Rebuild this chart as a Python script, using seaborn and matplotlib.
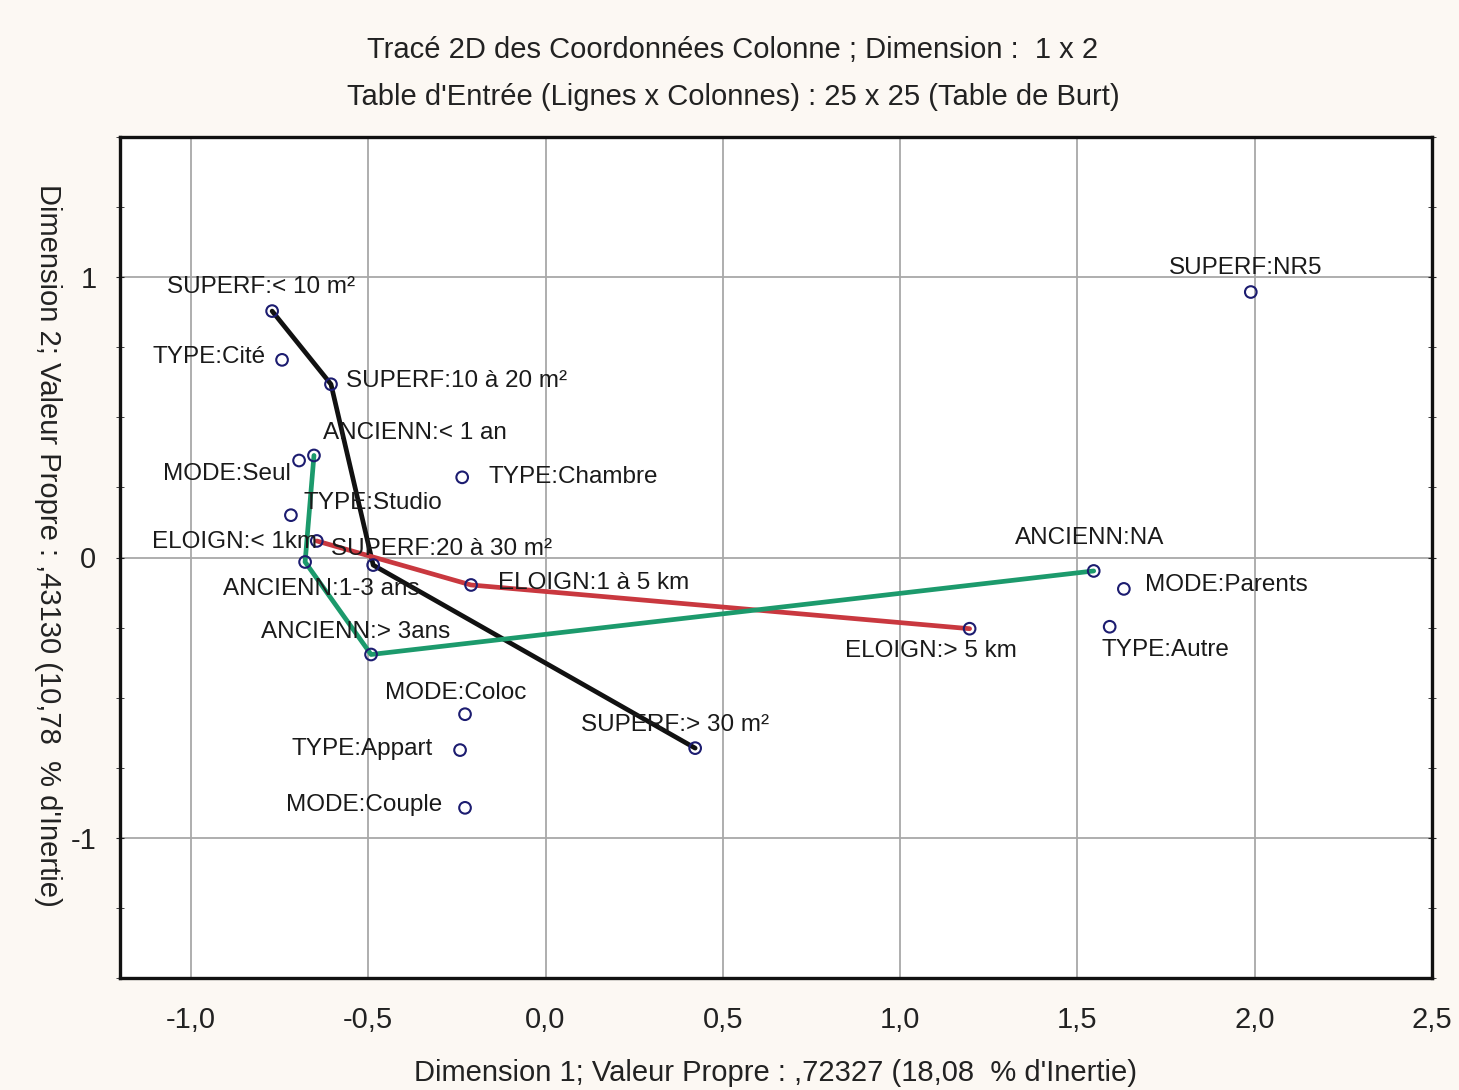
import matplotlib
matplotlib.use("Agg")
import matplotlib.pyplot as plt
from matplotlib.ticker import MultipleLocator, FixedLocator
import seaborn as sns
import pandas as pd

# ---------------- data ----------------
labels = [
    "SUPERF:< 10 m²", "TYPE:Cité", "SUPERF:10 à 20 m²", "ANCIENN:< 1 an",
    "MODE:Seul", "TYPE:Chambre", "TYPE:Studio", "ELOIGN:< 1km",
    "SUPERF:20 à 30 m²", "ANCIENN:1-3 ans", "ELOIGN:1 à 5 km", "ANCIENN:> 3ans",
    "MODE:Coloc", "TYPE:Appart", "MODE:Couple", "SUPERF:> 30 m²",
    "ELOIGN:> 5 km", "ANCIENN:NA", "MODE:Parents", "TYPE:Autre", "SUPERF:NR5",
]
dim1 = [-0.771, -0.743, -0.605, -0.653, -0.695, -0.235, -0.718, -0.645,
        -0.486, -0.678, -0.210, -0.492, -0.227, -0.241, -0.227, 0.422,
        1.196, 1.546, 1.631, 1.591, 1.989]
dim2 = [0.879, 0.705, 0.618, 0.364, 0.346, 0.286, 0.151, 0.059,
        -0.027, -0.016, -0.098, -0.346, -0.559, -0.687, -0.893, -0.680,
        -0.254, -0.048, -0.112, -0.247, 0.947]

superf_path = ["SUPERF:< 10 m²", "SUPERF:10 à 20 m²", "SUPERF:20 à 30 m²", "SUPERF:> 30 m²"]
eloign_path = ["ELOIGN:< 1km", "ELOIGN:1 à 5 km", "ELOIGN:> 5 km"]
ancienn_path = ["ANCIENN:< 1 an", "ANCIENN:1-3 ans", "ANCIENN:> 3ans", "ANCIENN:NA"]

x_ticks = [-1.0, -0.5, 0.0, 0.5, 1.0, 1.5, 2.0, 2.5]
x_tick_labels = ["-1,0", "-0,5", "0,0", "0,5", "1,0", "1,5", "2,0", "2,5"]
y_ticks = [-1, 0, 1]
y_tick_labels = ["-1", "0", "1"]

title1 = "Tracé 2D des Coordonnées Colonne ; Dimension :  1 x 2"
title2 = "Table d'Entrée (Lignes x Colonnes) : 25 x 25 (Table de Burt)"
xlabel = "Dimension 1; Valeur Propre : ,72327 (18,08  % d'Inertie)"
ylabel = "Dimension 2; Valeur Propre : ,43130 (10,78  % d'Inertie)"

# label placement (offset in pixels from the marker, horizontal alignment)
label_style = {
    "SUPERF:< 10 m²": (-11, 24, "center"),
    "TYPE:Cité": (-16, 3, "right"),
    "SUPERF:10 à 20 m²": (15, 3, "left"),
    "ANCIENN:< 1 an": (9, 22, "left"),
    "MODE:Seul": (-8, -13, "right"),
    "TYPE:Chambre": (26, 0, "left"),
    "TYPE:Studio": (13, 12, "left"),
    "ELOIGN:< 1km": (0, -1, "right"),
    "SUPERF:20 à 30 m²": (-42, 16, "left"),
    "ANCIENN:1-3 ans": (-82, -27, "left"),
    "ELOIGN:1 à 5 km": (27, 2, "left"),
    "ANCIENN:> 3ans": (-110, 22, "left"),
    "MODE:Coloc": (-80, 21, "left"),
    "TYPE:Appart": (-27, 1, "right"),
    "MODE:Couple": (-23, 3, "right"),
    "SUPERF:> 30 m²": (-114, 23, "left"),
    "ELOIGN:> 5 km": (-125, -22, "left"),
    "ANCIENN:NA": (-79, 33, "left"),
    "MODE:Parents": (21, 4, "left"),
    "TYPE:Autre": (-8, -23, "left"),
    "SUPERF:NR5": (-82, 24, "left"),
}

# ---------------- plot ----------------
sns.set_style("white")
plt.rcParams["font.family"] = ["Liberation Sans", "DejaVu Sans"]

df = pd.DataFrame({"label": labels, "x": dim1, "y": dim2})

bg = "#fcf8f3"
fig = plt.figure(figsize=(14.59, 10.90), dpi=100, facecolor=bg)
ax = fig.add_axes([120 / 1459, 1 - 978 / 1090, 1312 / 1459, 841 / 1090])
ax.set_facecolor("white")

def path_df(names):
    return df.set_index("label").loc[names].reset_index()

sns.lineplot(data=path_df(superf_path), x="x", y="y", sort=False, estimator=None,
             color="#111111", lw=3.4, ax=ax, zorder=3)
sns.lineplot(data=path_df(eloign_path), x="x", y="y", sort=False, estimator=None,
             color="#c9383f", lw=3.4, ax=ax, zorder=3)
sns.lineplot(data=path_df(ancienn_path), x="x", y="y", sort=False, estimator=None,
             color="#1c9a6c", lw=3.4, ax=ax, zorder=3)

sns.scatterplot(data=df, x="x", y="y", marker="o", s=70, facecolor="none",
                edgecolor="#1c1c70", linewidth=1.5, ax=ax, zorder=4)

for lab, xv, yv in zip(labels, dim1, dim2):
    dx, dy, ha = label_style[lab]
    ax.annotate(lab, (xv, yv), xytext=(dx, dy), textcoords="offset pixels",
                ha=ha, va="center", fontsize=17.5, color="#1a1a1a", zorder=5)

ax.set_xlim(-1.2, 2.5)
ax.set_ylim(-1.5, 1.5)
ax.xaxis.set_major_locator(FixedLocator(x_ticks))
ax.set_xticklabels(x_tick_labels)
ax.yaxis.set_major_locator(FixedLocator(y_ticks))
ax.set_yticklabels(y_tick_labels)
ax.yaxis.set_minor_locator(MultipleLocator(0.25))

ax.grid(True, which="major", color="#a8a8a8", lw=1.3)
ax.set_axisbelow(True)
for sp in ax.spines.values():
    sp.set_visible(True)
    sp.set_color("#111111")
    sp.set_linewidth(2.4)

ax.tick_params(axis="x", which="both", length=0, pad=20, labelsize=21, colors="#222222")
ax.tick_params(axis="y", which="major", length=6, direction="inout", pad=14,
               labelsize=21, colors="#222222", left=True, right=True)
ax.tick_params(axis="y", which="minor", length=6, direction="inout",
               left=True, right=True, color="#222222")

ax.set_xlabel(xlabel, fontsize=21, color="#222222", va="center")
ax.xaxis.set_label_coords(0.5, -0.113)
ax.set_ylabel(ylabel, fontsize=21, color="#222222", rotation=-90, va="center")
ax.yaxis.set_label_coords(-0.055, 0.515)

fig.text(733 / 1459, 1 - 50 / 1090, title1, ha="center", va="center",
         fontsize=21, color="#222222")
fig.text(733 / 1459, 1 - 97 / 1090, title2, ha="center", va="center",
         fontsize=21, color="#222222")

fig.savefig("out.png", dpi=100, facecolor=bg)
